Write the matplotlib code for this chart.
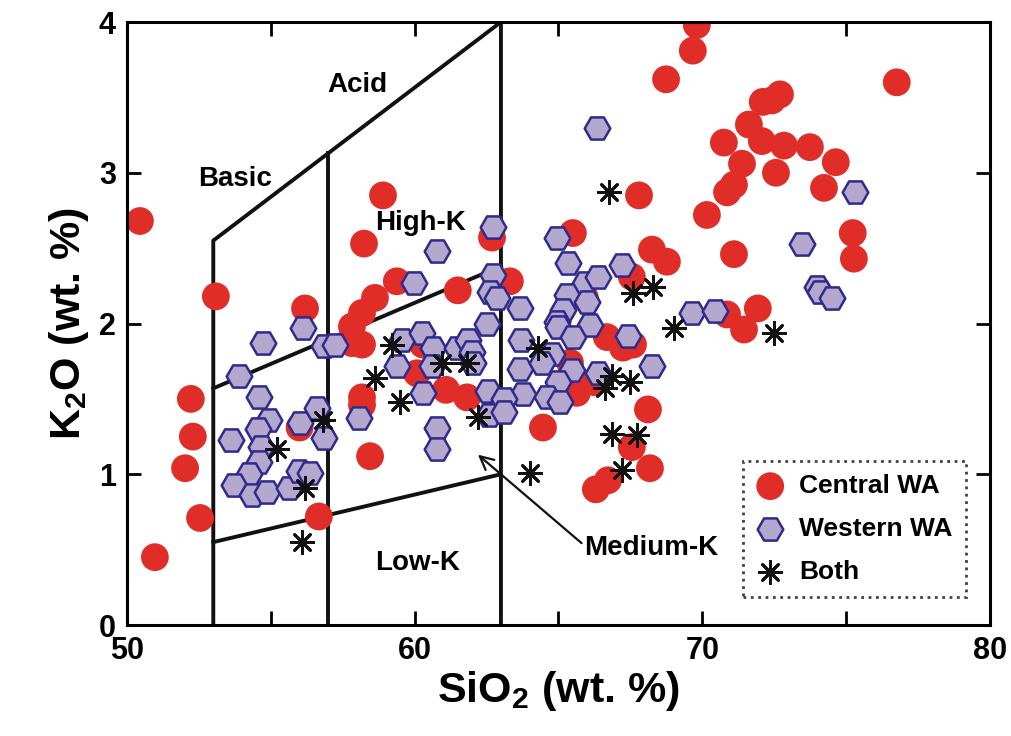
import numpy as np
import matplotlib
matplotlib.use("Agg")
import matplotlib.pyplot as plt

plt.rcParams['font.family'] = ['Liberation Sans', 'DejaVu Sans']
plt.rcParams['font.weight'] = 'bold'
plt.rcParams['axes.labelweight'] = 'bold'
plt.rcParams['mathtext.fontset'] = 'custom'
plt.rcParams['mathtext.rm'] = 'Liberation Sans:bold'
plt.rcParams['mathtext.bf'] = 'Liberation Sans:bold'
plt.rcParams['mathtext.it'] = 'Liberation Sans:bold'

# Central WA samples (SiO2, K2O)
central_sio2 = [50.45, 50.97, 53.09, 52.22, 52.29, 52.02, 52.54, 56.19, 56.0, 56.67,
                58.9, 58.24, 59.38, 58.62, 58.17, 57.82, 57.82, 58.17, 61.5, 62.69,
                63.31, 60.29, 60.08, 61.09, 61.82, 58.17, 58.17, 58.45,
                65.5, 68.25, 68.77, 70.16, 67.8, 65.92, 67.55, 66.68, 67.24, 67.59,
                65.4, 66.27, 65.64, 64.46, 68.11, 67.55, 68.18, 66.72, 66.3,
                69.81, 69.67, 68.74, 76.76, 72.7, 72.42, 72.1, 71.62, 70.75, 72.07,
                72.84, 73.74, 74.64, 71.38, 72.56, 71.1, 70.86, 74.23, 75.23, 75.27,
                71.1, 71.93, 70.86, 71.45]
central_k2o = [2.68, 0.45, 2.18, 1.50, 1.25, 1.04, 0.71, 2.10, 1.31, 0.72,
               2.85, 2.53, 2.28, 2.17, 2.07, 1.98, 1.87, 1.86, 2.22, 2.57,
               2.28, 1.86, 1.67, 1.56, 1.51, 1.51, 1.46, 1.12,
               2.60, 2.49, 2.41, 2.72, 2.85, 2.17, 2.31, 1.91, 1.84, 1.86,
               1.74, 1.61, 1.54, 1.31, 1.43, 1.18, 1.04, 0.96, 0.90,
               3.98, 3.81, 3.62, 3.60, 3.52, 3.48, 3.47, 3.32, 3.20, 3.21,
               3.18, 3.17, 3.07, 3.06, 3.00, 2.92, 2.87, 2.90, 2.60, 2.43,
               2.46, 2.10, 2.06, 1.96]

# Western WA samples
western_sio2 = [56.12, 54.73, 56.85, 57.23, 53.89, 54.59, 54.94, 54.55, 53.6, 56.0,
                56.6, 56.85, 54.65, 54.59, 54.24, 53.72, 54.34, 54.87, 55.63, 55.98,
                56.36,
                58.06, 59.56, 60.25, 59.38, 60.64, 61.47, 61.85, 61.99, 62.03, 60.29,
                62.55, 62.96, 62.6, 60.78, 60.78, 62.51, 62.72, 60.78, 59.98, 62.72,
                62.62, 62.86, 63.65, 63.7, 60.6,
                64.95, 65.33, 65.92, 66.37, 67.2, 65.29, 65.99, 63.66, 65.15, 64.95,
                65.0, 66.09, 65.5, 64.77, 64.42, 65.47, 64.98, 66.37, 67.41, 68.25,
                63.76, 64.6, 65.05, 63.1, 63.1, 69.65, 70.45, 66.34, 75.3, 73.46,
                74.0, 74.1, 74.5]
western_k2o = [1.97, 1.87, 1.85, 1.86, 1.65, 1.51, 1.36, 1.30, 1.23, 1.34,
               1.44, 1.24, 1.18, 1.08, 1.00, 0.93, 0.86, 0.88, 0.91, 1.02,
               1.01,
               1.37, 1.89, 1.94, 1.72, 1.84, 1.84, 1.89, 1.81, 1.74, 1.54,
               1.55, 1.44, 1.39, 1.31, 1.17, 2.00, 2.64, 2.48, 2.27, 2.32,
               2.21, 2.17, 1.70, 1.89, 1.72,
               2.57, 2.40, 2.27, 2.31, 2.39, 2.19, 2.14, 2.10, 2.09, 2.01,
               1.98, 1.99, 1.91, 1.80, 1.74, 1.69, 1.61, 1.67, 1.92, 1.72,
               1.53, 1.51, 1.48, 1.50, 1.41, 2.07, 2.08, 3.30, 2.87, 2.53,
               2.24, 2.21, 2.17]

# Samples found in both regions
both_sio2 = [66.75, 67.59, 68.28, 69.0, 64.29, 66.86, 67.48, 66.6, 66.86, 67.73,
             64.0, 67.2, 72.49, 59.21, 60.95, 61.82, 58.62, 59.49, 62.2, 56.81,
             55.21, 56.19, 56.08]
both_k2o = [2.87, 2.20, 2.24, 1.97, 1.84, 1.65, 1.61, 1.57, 1.27, 1.26,
            1.01, 1.03, 1.94, 1.86, 1.74, 1.74, 1.64, 1.48, 1.38, 1.36,
            1.17, 0.91, 0.55]

# Classification field boundaries
basic_x = [53, 53, 63, 63]
basic_y = [0, 2.55, 4.0, 0]
mid_x = [57, 57]
mid_y = [0, 3.13]
highk_x = [53, 63]
highk_y = [1.57, 2.38]
lowk_x = [53, 63]
lowk_y = [0.55, 1.0]

fig = plt.figure(figsize=(10.11, 7.36), dpi=100)
ax = fig.add_axes([0.1256, 0.1508, 0.8536, 0.8193])

lw = 2.8
ax.plot(basic_x, basic_y, color='#111111', lw=lw, zorder=1)
ax.plot(mid_x, mid_y, color='#111111', lw=lw, zorder=1)
ax.plot(highk_x, highk_y, color='#111111', lw=lw, zorder=1)
ax.plot(lowk_x, lowk_y, color='#111111', lw=lw, zorder=1)

ax.scatter(central_sio2, central_k2o, s=400, marker='o', color='#E02D27',
           edgecolors='none', label='Central WA', zorder=2)
ax.scatter(western_sio2, western_k2o, s=340, marker='H', facecolor='#B5A8CF',
           edgecolors='#2E2B8C', linewidths=1.8, label='Western WA', zorder=3)
ax.scatter(both_sio2, both_k2o, s=260, marker=(8, 2, 0), color='#111111',
           linewidths=2.0, label='Both', zorder=4)

fs = 20
ax.text(58.0, 3.58, 'Acid', fontsize=fs, ha='center', va='center', zorder=5)
ax.text(53.75, 2.96, 'Basic', fontsize=fs, ha='center', va='center', zorder=5)
ax.text(60.2, 2.67, 'High-K', fontsize=fs, ha='center', va='center', zorder=5)
ax.text(60.1, 0.41, 'Low-K', fontsize=fs, ha='center', va='center', zorder=5)
ax.annotate('Medium-K', xy=(62.2, 1.13), xytext=(65.9, 0.51), fontsize=fs,
            ha='left', va='center', zorder=5,
            arrowprops=dict(arrowstyle='->', color='#111111', lw=1.6,
                            mutation_scale=24, shrinkA=0, shrinkB=0,
                            relpos=(0, 0.6)))

ax.set_xlim(50, 80)
ax.set_ylim(0, 4)
ax.set_xticks([50, 60, 70, 80])
ax.set_xticks([55, 65, 75], minor=True)
ax.set_yticks([0, 1, 2, 3, 4])
ax.tick_params(which='both', direction='in', top=True, right=True,
               length=10, width=2, labelsize=22, pad=8)
for sp in ax.spines.values():
    sp.set_linewidth(2.2)

ax.set_xlabel('SiO$_2$ (wt. %)', fontsize=31, fontweight='bold', labelpad=2)
ax.set_ylabel('K$_2$O (wt. %)', fontsize=31, fontweight='bold', labelpad=6)

leg = ax.legend(loc='lower right', bbox_to_anchor=(0.972, 0.046), borderaxespad=0,
                fontsize=19, frameon=True, fancybox=False, labelspacing=0.72,
                handletextpad=0.55, borderpad=0.5, handlelength=1.1)
frame = leg.get_frame()
frame.set_edgecolor('#111111')
frame.set_linestyle(':')
frame.set_linewidth(2)

fig.savefig('out.png', dpi=100)
